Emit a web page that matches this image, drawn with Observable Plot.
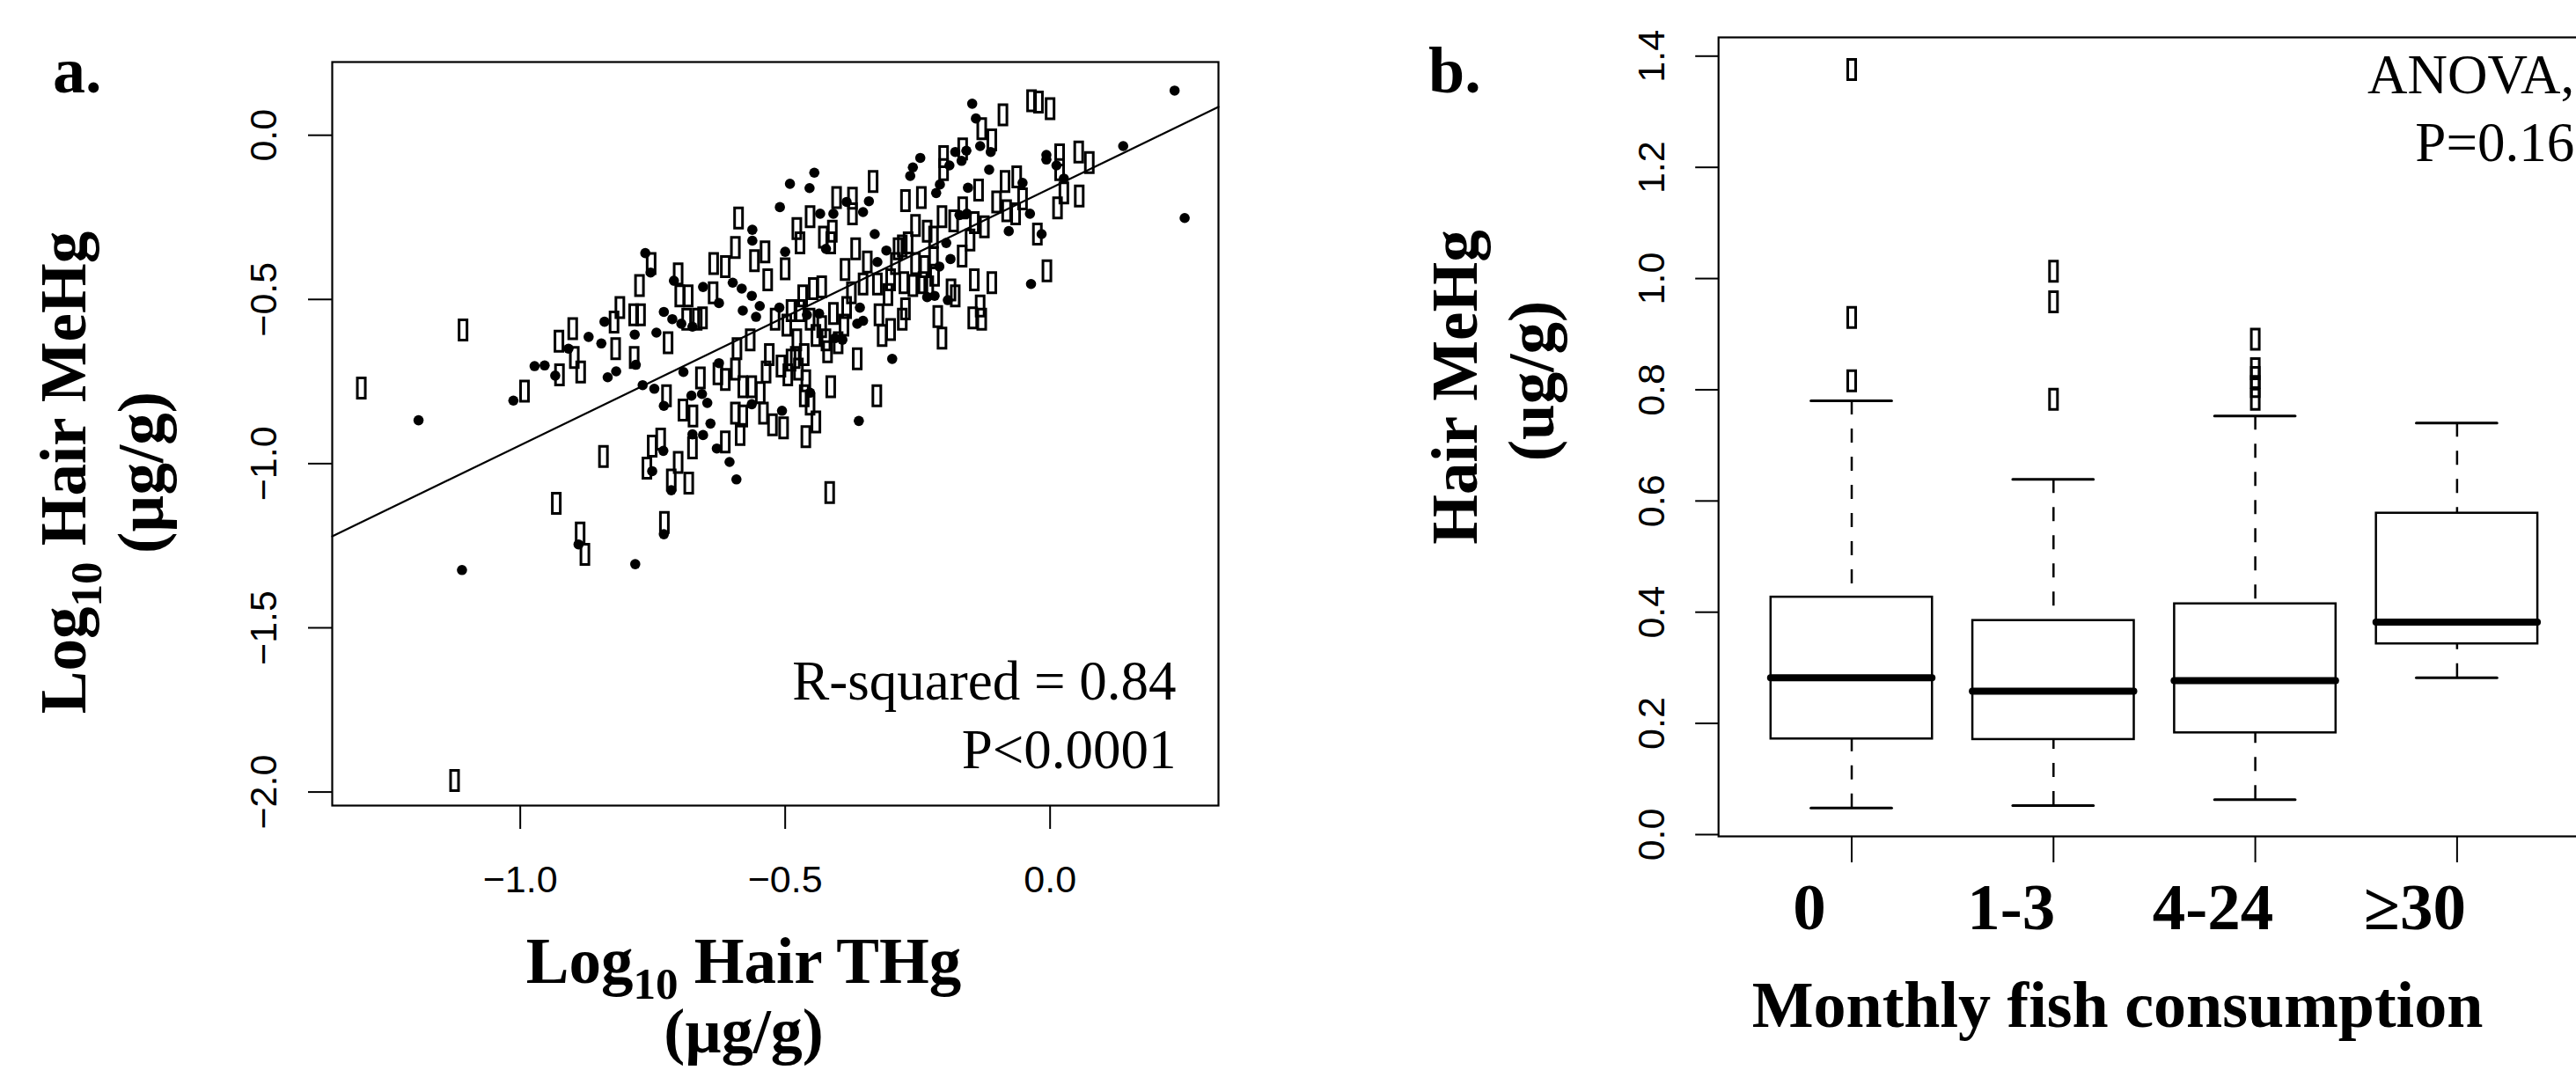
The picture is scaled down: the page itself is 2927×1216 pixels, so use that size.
<!DOCTYPE html>
<html><head><meta charset="utf-8">
<script src="https://cdn.jsdelivr.net/npm/d3@7"></script>
<script src="https://cdn.jsdelivr.net/npm/@observablehq/plot@0.6"></script>
<style>
html,body{margin:0;padding:0;background:#fff;overflow:hidden;}
#wrap{position:relative;width:2927px;height:1216px;overflow:hidden;background:#fff;}
#wrap svg{position:absolute;top:0;max-width:none;}
</style></head><body><div id="wrap"></div>
<script>
// ---------- Panel a: scatter data (log10 THg vs log10 MeHg) ----------
// open rectangles
const rectX = [-1.300,-1.108,-0.992,-0.927,-0.901,-0.926,-0.898,-0.886,-0.812,-0.823,-0.820,-0.785,-0.786,-0.773,-0.775,-0.753,-0.724,-0.721,-0.702,-0.699,-0.683,-0.686,-0.666,-0.656,-0.635,-0.636,-0.613,-0.588,-0.594,-0.558,-0.538,-0.533,-0.591,-0.566,-0.660,-0.627,-0.613,-0.594,-0.693,-0.674,-0.594,-0.580,-0.541,-0.524,-0.580,-0.563,-0.547,-0.530,-0.519,-0.536,
-0.035,-0.022,0.000,-0.089,-0.129,-0.110,-0.201,-0.201,-0.165,-0.334,-0.403,-0.373,-0.453,-0.373,-0.478,-0.472,-0.411,-0.428,-0.414,-0.500,-0.273,-0.243,-0.254,-0.204,-0.232,-0.220,-0.165,-0.182,-0.143,-0.151,-0.124,-0.135,-0.101,-0.085,-0.063,-0.082,-0.065,-0.052,0.018,0.018,0.054,0.074,0.026,0.055,0.014,-0.024,-0.006,-0.143,-0.110,-0.132,-0.146,-0.129,-0.212,-0.204,-0.166,-0.187,-0.179,-0.367,-0.345,-0.387,-0.353,-0.326,-0.301,-0.306,-0.279,-0.268,-0.254,-0.276,-0.259,-0.240,-0.229,-0.220,-0.218,-0.237,-0.292,-0.287,-0.323,-0.317,-0.301,-0.279,-0.273,-0.375,-0.384,-0.409,-0.389,-0.431,-0.447,-0.467,-0.472,-0.489,-0.497,-0.453,-0.431,-0.442,-0.478,-0.420,-0.464,-0.489,-0.508,-0.475,-0.495,-0.364,-0.414,-0.327,-0.461,-0.464,-0.453,-0.442,-0.461,-0.503,-0.481,-0.423,-0.400,
-0.843,-0.751,-0.735,-0.761,-0.702,-0.715,-0.682,-0.675,-0.613,-0.585,-0.932,-0.887,-0.878,-0.728,-1.124,-0.416];
const rectY = [-0.770,-0.593,-0.779,-0.627,-0.589,-0.730,-0.677,-0.721,-0.525,-0.569,-0.650,-0.677,-0.547,-0.547,-0.458,-0.391,-0.793,-0.632,-0.422,-0.489,-0.489,-0.560,-0.560,-0.556,-0.391,-0.480,-0.400,-0.252,-0.342,-0.382,-0.355,-0.440,-0.650,-0.623,-0.739,-0.726,-0.744,-0.712,-0.837,-0.855,-0.846,-0.855,-0.846,-0.882,-0.766,-0.766,-0.784,-0.668,-0.560,-0.721,
0.105,0.101,0.081,0.062,0.020,-0.014,-0.065,-0.105,-0.042,-0.141,-0.190,-0.192,-0.248,-0.239,-0.284,-0.328,-0.292,-0.310,-0.328,-0.407,-0.199,-0.190,-0.275,-0.248,-0.292,-0.310,-0.221,-0.261,-0.266,-0.319,-0.279,-0.167,-0.203,-0.141,-0.127,-0.230,-0.239,-0.194,-0.060,-0.105,-0.051,-0.083,-0.176,-0.185,-0.221,-0.301,-0.413,-0.440,-0.449,-0.520,-0.556,-0.560,-0.552,-0.618,-0.368,-0.471,-0.489,-0.346,-0.386,-0.409,-0.453,-0.453,-0.440,-0.485,-0.337,-0.328,-0.391,-0.449,-0.458,-0.449,-0.462,-0.373,-0.426,-0.400,-0.391,-0.346,-0.547,-0.610,-0.592,-0.560,-0.529,-0.480,-0.525,-0.543,-0.578,-0.462,-0.467,-0.489,-0.534,-0.534,-0.578,-0.560,-0.583,-0.610,-0.623,-0.659,-0.668,-0.685,-0.703,-0.712,-0.730,-0.681,-0.766,-0.793,-0.748,-0.793,-0.819,-0.873,-0.918,-0.891,-0.677,-0.623,-0.632,
-0.978,-0.947,-0.925,-1.014,-0.996,-1.050,-1.059,-0.952,-0.934,-0.911,-1.121,-1.211,-1.276,-1.179,-1.965,-1.088];
// filled dots
const dotX = [-1.192,-1.013,-0.973,-0.954,-0.934,-0.909,-0.871,-0.847,-0.841,-0.835,-0.819,-0.784,-0.782,-0.764,-0.754,-0.769,-0.747,-0.729,-0.743,-0.729,-0.713,-0.710,-0.696,-0.675,-0.655,-0.625,-0.599,-0.582,-0.563,-0.580,-0.548,-0.555,-0.562,-0.562,-0.692,-0.677,-0.657,-0.647,-0.641,-0.625,-0.563,
0.235,0.138,0.254,-0.147,-0.140,-0.132,-0.112,-0.115,-0.245,-0.259,-0.264,-0.179,-0.158,-0.167,-0.190,-0.208,-0.215,-0.155,-0.007,-0.007,0.012,0.026,-0.052,-0.038,-0.016,-0.078,-0.036,-0.298,-0.361,-0.506,-0.445,-0.491,-0.454,-0.510,-0.434,-0.384,-0.342,-0.353,-0.409,-0.500,-0.423,-0.331,-0.309,-0.326,-0.196,-0.188,-0.209,-0.232,-0.218,-0.193,-0.359,-0.364,-0.353,-0.406,-0.392,-0.453,-0.511,-0.459,-0.436,-0.157,-0.171,
-0.751,-0.730,-0.715,-0.655,-0.629,-0.605,-0.592,-0.729,-0.783,-1.110,-0.890,-0.675];
const dotY = [-0.868,-0.808,-0.703,-0.701,-0.732,-0.650,-0.614,-0.634,-0.568,-0.737,-0.719,-0.607,-0.699,-0.359,-0.418,-0.761,-0.772,-0.824,-0.601,-0.538,-0.560,-0.443,-0.574,-0.583,-0.462,-0.511,-0.449,-0.467,-0.489,-0.534,-0.520,-0.553,-0.288,-0.321,-0.721,-0.793,-0.788,-0.815,-0.878,-0.694,-0.819,
0.136,-0.033,-0.252,0.096,0.051,-0.033,-0.051,-0.105,-0.069,-0.098,-0.124,-0.051,-0.047,-0.078,-0.092,-0.150,-0.176,-0.160,-0.060,-0.074,-0.092,-0.132,-0.145,-0.239,-0.301,-0.292,-0.453,-0.681,-0.870,-0.839,-0.114,-0.148,-0.161,-0.219,-0.239,-0.203,-0.201,-0.234,-0.239,-0.355,-0.346,-0.301,-0.351,-0.386,-0.328,-0.377,-0.400,-0.493,-0.489,-0.502,-0.525,-0.574,-0.565,-0.618,-0.623,-0.784,-0.525,-0.547,-0.543,-0.239,-0.243,
-1.023,-0.961,-1.081,-0.913,-0.954,-0.995,-1.048,-1.215,-1.306,-1.324,-1.246,-0.911];
const fitIntercept = -0.162;
const fitSlope = 0.782;
const xTicksA = [-1.0, -0.5, 0.0];
const yTicksA = [-2.0, -1.5, -1.0, -0.5, 0.0];
const statLines = ["R-squared = 0.84", "P<0.0001"];

// ---------- Panel b: box plot data (hair MeHg by monthly fish consumption) ----------
const groupLabels = ["0", "1-3", "4-24", "\u226530"];
const whiskerLow  = [0.048, 0.052, 0.063, 0.282];
const quartile1   = [0.172, 0.171, 0.183, 0.343];
const medians     = [0.282, 0.258, 0.277, 0.382];
const quartile3   = [0.427, 0.385, 0.415, 0.578];
const whiskerHigh = [0.780, 0.639, 0.753, 0.740];
const outlierGroup = [1, 1, 1, 2, 2, 2, 3, 3, 3, 3, 3];
const outlierValue = [0.816, 0.930, 1.376, 0.783, 0.958, 1.013, 0.783, 0.806, 0.822, 0.838, 0.891];
const yTicksB = [0.0, 0.2, 0.4, 0.6, 0.8, 1.0, 1.2, 1.4];
const anovaLines = ["ANOVA,", "P=0.16"];

// ---------- build ----------
const SERIF = "'Liberation Serif','Times New Roman',serif";
const SANS = "'Liberation Sans',Arial,Helvetica,sans-serif";
const openRect = {draw(ctx) { ctx.moveTo(-4.5, -11.5); ctx.lineTo(4.5, -11.5); ctx.lineTo(4.5, 11.5); ctx.lineTo(-4.5, 11.5); ctx.closePath(); }};

const rects = rectX.map((x, i) => ({x, y: rectY[i]}));
const dots = dotX.map((x, i) => ({x, y: dotY[i]}));
const xDomA = [-1.3549, 0.3178];
const fitData = xDomA.map(x => ({x, y: fitIntercept + fitSlope * x}));

const svgA = Plot.plot({
  width: 1560, height: 1216,
  marginLeft: 377, marginRight: 176, marginTop: 70, marginBottom: 301,
  x: {domain: xDomA},
  y: {domain: [-2.0413, 0.2229]},
  style: {fontFamily: SANS, color: "black", background: "transparent"},
  marks: [
    Plot.axisX({ticks: xTicksA, tickSize: 27, tickPadding: 41, fontSize: 43, tickFormat: d3.format(".1f"), strokeWidth: 2, label: null}),
    Plot.axisY({ticks: yTicksA, tickSize: 27, tickPadding: 37, tickRotate: -90, fontSize: 43, tickFormat: d3.format(".1f"), strokeWidth: 2, label: null}),
    Plot.line(fitData, {x: "x", y: "y", stroke: "black", strokeWidth: 2.2}),
    Plot.dot(rects, {x: "x", y: "y", symbol: openRect, fill: "none", stroke: "black", strokeWidth: 3}),
    Plot.dot(dots, {x: "x", y: "y", r: 5.8, fill: "black", stroke: "none"}),
    Plot.text([statLines.join("\n")], {text: d => d, frameAnchor: "bottom-right", dx: -48, dy: -43, textAnchor: "end", lineAnchor: "bottom", lineHeight: 1.23, fontSize: 63, fontFamily: SERIF, fill: "black"}),
    Plot.frame({stroke: "black", strokeWidth: 2.2})
  ]
});

const boxes = groupLabels.map((label, i) => ({g: i + 1, label, lo: whiskerLow[i], q1: quartile1[i], med: medians[i], q3: quartile3[i], hi: whiskerHigh[i]}));
const outliers = outlierGroup.map((g, i) => ({g, v: outlierValue[i]}));

const svgB = Plot.plot({
  width: 1400, height: 1216,
  marginLeft: 392.2, marginRight: 17.3, marginTop: 42, marginBottom: 266,
  x: {domain: [0.34, 4.66]},
  y: {domain: [-0.0032, 1.4337]},
  style: {fontFamily: SANS, color: "black", background: "transparent"},
  marks: [
    Plot.axisX({ticks: [1, 2, 3, 4], tickSize: 30, tickFormat: () => "", strokeWidth: 2, label: null}),
    Plot.axisY({ticks: yTicksB, tickSize: 26, tickPadding: 36, tickRotate: -90, fontSize: 43, tickFormat: d3.format(".1f"), strokeWidth: 2, label: null}),
    Plot.ruleX(boxes, {x: "g", y1: "hi", y2: "q3", stroke: "black", strokeWidth: 2.5, strokeDasharray: "16,16"}),
    Plot.ruleX(boxes, {x: "g", y1: "lo", y2: "q1", stroke: "black", strokeWidth: 2.5, strokeDasharray: "16,16"}),
    Plot.ruleY(boxes, {y: "hi", x1: d => d.g - 0.2, x2: d => d.g + 0.2, stroke: "black", strokeWidth: 3, strokeLinecap: "round"}),
    Plot.ruleY(boxes, {y: "lo", x1: d => d.g - 0.2, x2: d => d.g + 0.2, stroke: "black", strokeWidth: 3, strokeLinecap: "round"}),
    Plot.rect(boxes, {x1: d => d.g - 0.4, x2: d => d.g + 0.4, y1: "q1", y2: "q3", fill: "white", stroke: "black", strokeWidth: 2.5}),
    Plot.ruleY(boxes, {y: "med", x1: d => d.g - 0.4, x2: d => d.g + 0.4, stroke: "black", strokeWidth: 8, strokeLinecap: "round"}),
    Plot.dot(outliers, {x: "g", y: "v", symbol: openRect, fill: "none", stroke: "black", strokeWidth: 3}),
    Plot.text(groupLabels, {x: (d, i) => i + 1, text: d => d, frameAnchor: "bottom", dx: -48, dy: 105, lineAnchor: "bottom", fontSize: 75, fontWeight: "bold", fontFamily: SERIF, fill: "black"}),
    Plot.text([anovaLines.join("\n")], {text: d => d, frameAnchor: "top-right", dx: -18, dy: 140, textAnchor: "end", lineAnchor: "bottom", lineHeight: 1.21, fontSize: 63, fontFamily: SERIF, fill: "black"}),
    Plot.frame({stroke: "black", strokeWidth: 2.2})
  ]
});

const wrap = document.getElementById("wrap");
svgA.style.left = "0px"; svgA.style.maxWidth = "none"; svgA.style.position = "absolute"; svgA.style.top = "0px";
svgB.style.left = "1560px"; svgB.style.maxWidth = "none"; svgB.style.position = "absolute"; svgB.style.top = "0px";
wrap.appendChild(svgA);
wrap.appendChild(svgB);

function addText(svg, {x, y, rotate = 0, size, weight = "bold", anchor = "middle", parts}) {
  const t = d3.select(svg).append("text")
    .attr("transform", `translate(${x},${y})` + (rotate ? ` rotate(${rotate})` : ""))
    .attr("text-anchor", anchor)
    .attr("font-family", SERIF)
    .attr("font-weight", weight)
    .attr("font-size", size)
    .attr("fill", "black")
    .style("white-space", "pre");
  parts.forEach(p => {
    const s = t.append("tspan").text(p.t);
    if (p.sub) s.attr("font-size", size * 0.7).attr("dy", 18);
    if (p.back) s.attr("dy", -18);
  });
}
// panel a titles
addText(svgA, {x: 60, y: 105, size: 74, anchor: "start", parts: [{t: "a."}]});
addText(svgA, {x: 97, y: 537, rotate: -90, size: 73, parts: [{t: "Log"}, {t: "10", sub: true}, {t: " Hair MeHg", back: true}]});
addText(svgA, {x: 185, y: 537, rotate: -90, size: 73, parts: [{t: "(\u00b5g/g)"}]});
addText(svgA, {x: 845, y: 1117, size: 73, parts: [{t: "Log"}, {t: "10", sub: true}, {t: " Hair THg", back: true}]});
addText(svgA, {x: 845, y: 1196, size: 72, parts: [{t: "(\u00b5g/g)"}]});
// panel b titles
addText(svgB, {x: 63, y: 105, size: 74, anchor: "start", parts: [{t: "b."}]});
addText(svgB, {x: 118, y: 440, rotate: -90, size: 73, parts: [{t: "Hair MeHg"}]});
addText(svgB, {x: 205, y: 433, rotate: -90, size: 73, parts: [{t: "(ug/g)"}]});
addText(svgB, {x: 846, y: 1167, size: 74, parts: [{t: "Monthly fish consumption"}]});
</script></body></html>
